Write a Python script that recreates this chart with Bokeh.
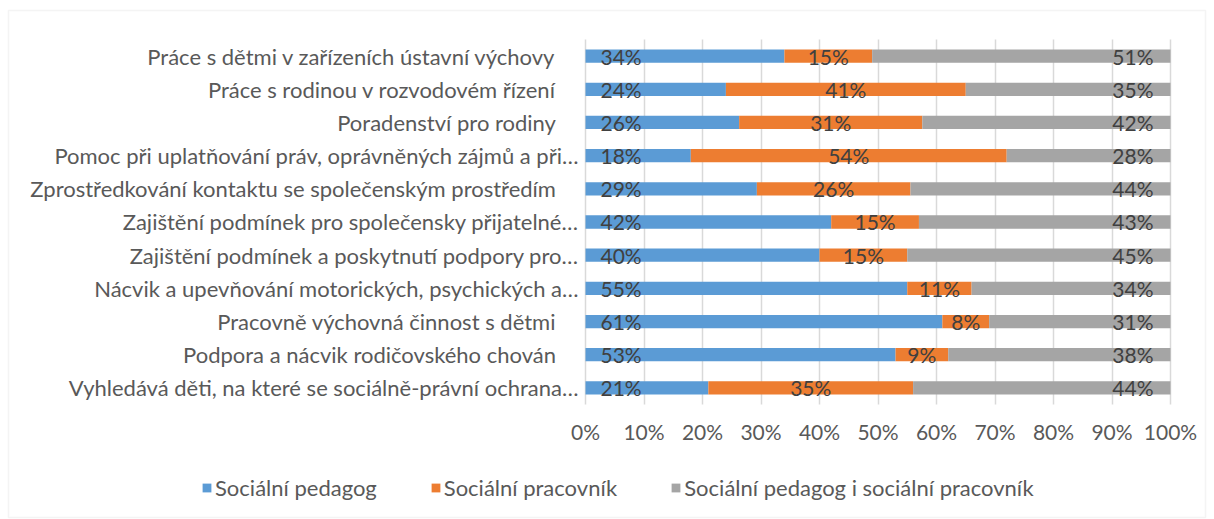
from bokeh.plotting import figure
from bokeh.models import (ColumnDataSource, Range1d, LabelSet, Legend, LegendItem,
                          FixedTicker, BoxAnnotation)
from bokeh.core.properties import value
from bokeh.embed import file_html
from bokeh.resources import INLINE

categories = [
    "Práce s dětmi v zařízeních ústavní výchovy",
    "Práce s rodinou v rozvodovém řízení",
    "Poradenství pro rodiny",
    "Pomoc při uplatňování práv, oprávněných zájmů a při…",
    "Zprostředkování kontaktu se společenským prostředím",
    "Zajištění podmínek pro společensky přijatelné…",
    "Zajištění podmínek a poskytnutí podpory pro…",
    "Nácvik a upevňování motorických, psychických a…",
    "Pracovně výchovná činnost s dětmi",
    "Podpora a nácvik rodičovského chován",
    "Vyhledává děti, na které se sociálně-právní ochrana…",
]
series_names = ["Sociální pedagog", "Sociální pracovník", "Sociální pedagog i sociální pracovník"]
pedagog = [34, 24, 26, 18, 29, 42, 40, 55, 61, 53, 21]
pracovnik = [15, 41, 31, 54, 26, 15, 15, 11, 8, 9, 35]
oba = [51, 35, 42, 28, 44, 43, 45, 34, 31, 38, 44]
tick_values = [0, 10, 20, 30, 40, 50, 60, 70, 80, 90, 100]
tick_labels = ["0%", "10%", "20%", "30%", "40%", "50%", "60%", "70%", "80%", "90%", "100%"]

colors = ["#5B9BD5", "#ED7D31", "#A5A5A5"]
FONT = "Lato"
W, H = 1214, 519
PX_X = 5.85          # pixels per percent
PLOT_LEFT = 585      # pixel of 0 %
PX_Y = 33.18         # pixels per category band
PLOT_TOP = 39        # pixel of the top of the first band

n = len(categories)
rows = list(range(n))
tot = [a + b + c for a, b, c in zip(pedagog, pracovnik, oba)]
s1 = [a / t * 100 for a, t in zip(pedagog, tot)]
s2 = [b / t * 100 for b, t in zip(pracovnik, tot)]
s3 = [c / t * 100 for c, t in zip(oba, tot)]

source = ColumnDataSource(dict(
    row=rows, s1=s1, s2=s2, s3=s3,
    l1=[f"{v}%" for v in pedagog], l2=[f"{v}%" for v in pracovnik], l3=[f"{v}%" for v in oba],
    x0=[0] * n,
    xmid=[a + b / 2 for a, b in zip(s1, s2)],
    x100=[100] * n,
))

x_start = -PLOT_LEFT / PX_X
x_end = x_start + W / PX_X
y_top = -0.5 - PLOT_TOP / PX_Y
y_bottom = y_top + H / PX_Y

p = figure(width=W, height=H, output_backend="svg", toolbar_location=None,
           x_range=Range1d(x_start, x_end), y_range=Range1d(y_bottom, y_top),
           min_border=0, min_border_left=0, min_border_right=0,
           min_border_top=0, min_border_bottom=0)
p.outline_line_color = None
p.background_fill_color = "white"
p.border_fill_color = "white"
p.extra_x_ranges = {"px": Range1d(0, W)}
p.extra_y_ranges = {"px": Range1d(H, 0)}

# chart border
p.add_layout(BoxAnnotation(left=8, right=W - 9, top=10, bottom=H - 2,
                           x_range_name="px", y_range_name="px",
                           fill_color=None, fill_alpha=0, line_color="#d9d9d9",
                           line_width=1.5, level="underlay"))

rs = p.hbar_stack(["s1", "s2", "s3"], y="row", height=0.4, color=colors, source=source,
                  line_color=None)

grid = p.xgrid[0]
grid.ticker = FixedTicker(ticks=tick_values)
grid.grid_line_color = "#d9d9d9"
grid.grid_line_width = 1.5
p.ygrid.grid_line_color = None
try:
    grid.cross_bounds = (-0.5, n - 0.5)
except Exception:
    grid.grid_line_color = None
    p.segment(x0=tick_values, x1=tick_values, y0=[-0.5] * len(tick_values),
              y1=[n - 0.5] * len(tick_values), line_color="#d9d9d9", line_width=1.5,
              level="underlay")

xa = p.xaxis[0]
xa.fixed_location = n - 0.5
xa.bounds = (0, 100)
xa.ticker = FixedTicker(ticks=tick_values)
xa.major_label_overrides = {v: l for v, l in zip(tick_values, tick_labels)}
xa.axis_line_color = None
xa.major_tick_line_color = None
xa.minor_tick_line_color = None
xa.major_tick_out = 0
xa.major_tick_in = 0
xa.major_label_standoff = 15
xa.major_label_text_font = FONT
xa.major_label_text_font_size = "21px"
xa.major_label_text_color = "#595959"

ya = p.yaxis[0]
ya.fixed_location = 0
ya.ticker = FixedTicker(ticks=rows)
# untruncated labels sit a little further left, as in the original
ya.major_label_overrides = {i: (c if c.endswith("…") else c + "    ")
                            for i, c in zip(rows, categories)}
ya.axis_line_color = None
ya.major_tick_line_color = None
ya.minor_tick_line_color = None
ya.major_tick_out = 0
ya.major_tick_in = 0
ya.major_label_standoff = 7
ya.major_label_text_font = FONT
ya.major_label_text_font_size = "22px"
ya.major_label_text_color = "#595959"

lab_font = dict(text_font=value(FONT), text_font_size="21px", text_color="#404040",
                text_baseline="middle")
p.add_layout(LabelSet(x="x0", y="row", text="l1", source=source, x_offset=15,
                      text_align="left", **lab_font))
p.add_layout(LabelSet(x="xmid", y="row", text="l2", source=source,
                      text_align="center", **lab_font))
p.add_layout(LabelSet(x="x100", y="row", text="l3", source=source, x_offset=-17,
                      text_align="right", **lab_font))

legend = Legend(items=[LegendItem(label=nm, renderers=[r]) for nm, r in zip(series_names, rs)],
                orientation="horizontal", location=(201, 18))
legend.label_text_font = FONT
legend.label_text_font_size = "22px"
legend.label_text_color = "#595959"
legend.glyph_width = 11
legend.glyph_height = 11
legend.label_standoff = 3
legend.spacing = 53
legend.border_line_color = None
legend.background_fill_alpha = 0
legend.margin = 0
legend.padding = 4
p.add_layout(legend, "center")

open("out.html", "w").write(file_html(p, INLINE))
